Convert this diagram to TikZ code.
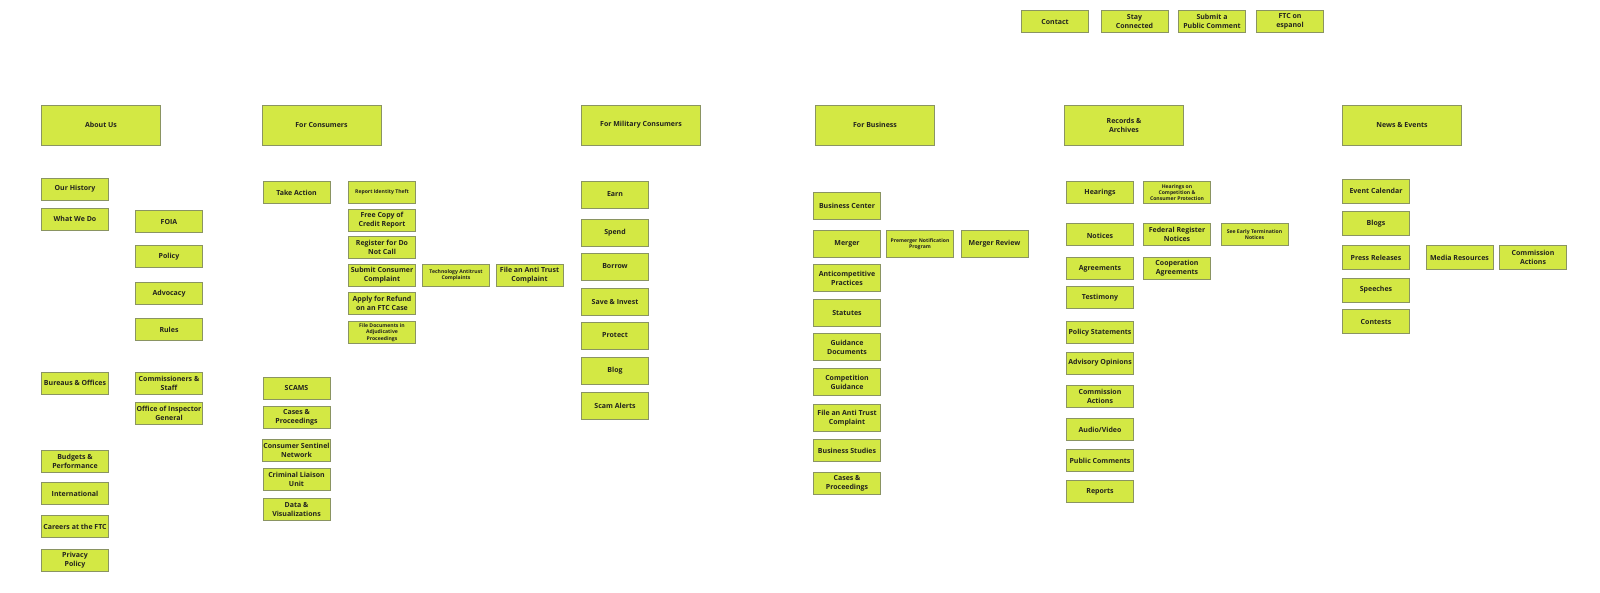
\documentclass[tikz,border=0pt]{standalone}
\usepackage{fontspec}
\setmainfont{Open Sans}
\usepackage{xcolor}
\usepackage{tikz}
\usetikzlibrary{positioning}
\definecolor{boxlime}{RGB}{211,232,68}
\definecolor{boxedge}{RGB}{138,148,98}
\definecolor{boxtext}{RGB}{35,35,30}
\tikzset{
  hdr/.style={rectangle, draw=boxedge, fill=boxlime, line width=0.8pt, minimum width=119pt, minimum height=40pt, inner sep=1pt, align=center, text=boxtext, font=\bfseries\fontsize{7}{9}\selectfont},
  page/.style={hdr, minimum width=67pt, minimum height=22pt}, % ordinary page box
  tallpage/.style={page, minimum height=27pt},
  finetext/.style={font=\bfseries\fontsize{5.1}{6.4}\selectfont} % long labels set small
}
\begin{document}
\begin{tikzpicture}[x=1pt, y=-1pt]
  \useasboundingbox (0,0) rectangle (1600,592);

  % Utility links
  \node[page] (contact) at (1055,21.5) {Contact};
  \node[page] (stay) at (1134.5,21.5) {Stay\\Connected};
  \node[page] (comment) at (1212,21.5) {Submit a\\Public Comment};
  \node[page] (espanol) at (1290,21.5) {FTC on\\espanol};

  % Main sections
  \node[hdr] (about) at (101,125) {About Us};
  \node[hdr] (consumers) at (321.5,125) {For Consumers};
  \node[hdr] (military) at (641,125) {For Military Consumers};
  \node[hdr] (business) at (875,125) {For Business};
  \node[hdr] (records) at (1124,125) {Records \&\\Archives};
  \node[hdr] (news) at (1402,125) {News \& Events};

  % About Us
  \node[page] (history) at (75,189) {Our History};
  \node[page] (whatwedo) at (75,219) {What We Do};
  \node[page] (bureaus) at (75,383) {Bureaus \& Offices};
  \node[page] (budgets) at (75,461.5) {Budgets \&\\Performance};
  \node[page] (intl) at (75,493.5) {International};
  \node[page] (careers) at (75,526.5) {Careers at the FTC};
  \node[page] (privacy) at (75,560) {Privacy\\Policy};
  \node[page] (foia) at (169,221.5) {FOIA};
  \node[page] (policy) at (169,256.5) {Policy};
  \node[page] (advocacy) at (169,293.5) {Advocacy};
  \node[page] (rules) at (169,329.5) {Rules};
  \node[page] (commrs) at (169,383) {Commissioners \&\\Staff};
  \node[page] (oig) at (169,413) {Office of Inspector\\General};

  % For Consumers
  \node[page] (takeaction) at (296.5,192.5) {Take Action};
  \node[page] (scams) at (296.5,388) {SCAMS};
  \node[page] (ccases) at (296.5,417.5) {Cases \&\\Proceedings};
  \node[page] (sentinel) at (296.5,450) {Consumer Sentinel\\Network};
  \node[page] (liaison) at (296.5,479.5) {Criminal Liaison\\Unit};
  \node[page] (dataviz) at (296.5,509.5) {Data \&\\Visualizations};
  \node[page, finetext] (idtheft) at (382,192) {Report Identity Theft};
  \node[page] (credit) at (382,220) {Free Copy of\\Credit Report};
  \node[page] (dnc) at (382,247) {Register for Do\\Not Call};
  \node[page] (complaint) at (382,275) {Submit Consumer\\Complaint};
  \node[page] (refund) at (382,303) {Apply for Refund\\on an FTC Case};
  \node[page, finetext] (adjud) at (382,332.5) {File Documents in\\Adjudicative\\Proceedings};
  \node[page, finetext] (techanti) at (456,275) {Technology Antitrust\\Complaints};
  \node[page] (cantitrust) at (529.5,275) {File an Anti Trust\\Complaint};

  % For Military Consumers
  \node[tallpage] (earn) at (615,194.5) {Earn};
  \node[tallpage] (spend) at (615,232.5) {Spend};
  \node[tallpage] (borrow) at (615,266.5) {Borrow};
  \node[tallpage] (save) at (615,301.5) {Save \& Invest};
  \node[tallpage] (protect) at (615,335.5) {Protect};
  \node[tallpage] (blog) at (615,370.5) {Blog};
  \node[tallpage] (scamalerts) at (615,405.5) {Scam Alerts};

  % For Business
  \node[tallpage] (bizcenter) at (847,206) {Business Center};
  \node[tallpage] (merger) at (847,244) {Merger};
  \node[tallpage] (anticomp) at (847,278) {Anticompetitive\\Practices};
  \node[tallpage] (statutes) at (847,312.5) {Statutes};
  \node[tallpage] (guidedocs) at (847,347) {Guidance\\Documents};
  \node[tallpage] (compguide) at (847,382) {Competition\\Guidance};
  \node[tallpage] (bantitrust) at (847,418) {File an Anti Trust\\Complaint};
  \node[page] (bizstudies) at (847,450.5) {Business Studies};
  \node[page] (bcases) at (847,483.5) {Cases \&\\Proceedings};
  \node[tallpage, finetext] (premerger) at (920,244) {Premerger Notification\\Program};
  \node[tallpage] (mreview) at (994.5,244) {Merger Review};

  % Records & Archives
  \node[page] (hearings) at (1100,192.5) {Hearings};
  \node[page] (notices) at (1100,234.5) {\\Notices};
  \node[page] (agreements) at (1100,268.5) {Agreements};
  \node[page] (testimony) at (1100,297.5) {Testimony};
  \node[page] (polstate) at (1100,332.5) {Policy Statements};
  \node[page] (advisory) at (1100,363) {Advisory Opinions};
  \node[page] (rcommact) at (1100,396) {Commission\\Actions};
  \node[page] (audio) at (1100,429.5) {Audio/Video};
  \node[page] (pubcomm) at (1100,460.5) {Public Comments};
  \node[page] (reports) at (1100,491.5) {Reports};
  \node[page, finetext] (hearcomp) at (1177,192.5) {Hearings on\\Competition \&\\Consumer Protection};
  \node[page] (fedreg) at (1177,234.5) {Federal Register\\Notices};
  \node[page] (coop) at (1177,268.5) {Cooperation\\Agreements};
  \node[page, finetext] (earlyterm) at (1254.5,234.5) {See Early Termination\\Notices};

  % News & Events
  \node[page, minimum height=24pt] (calendar) at (1376,191) {Event Calendar};
  \node[page, minimum height=24pt] (blogs) at (1376,223.5) {Blogs};
  \node[page, minimum height=24pt] (press) at (1376,257.5) {Press Releases};
  \node[page, minimum height=24pt] (speeches) at (1376,290) {Speeches};
  \node[page, minimum height=24pt] (contests) at (1376,321.5) {Contests};
  \node[page, minimum height=24pt] (media) at (1459.5,257.5) {Media Resources};
  \node[page, minimum height=24pt] (ncommact) at (1533,257.5) {Commission\\Actions};
\end{tikzpicture}
\end{document}
